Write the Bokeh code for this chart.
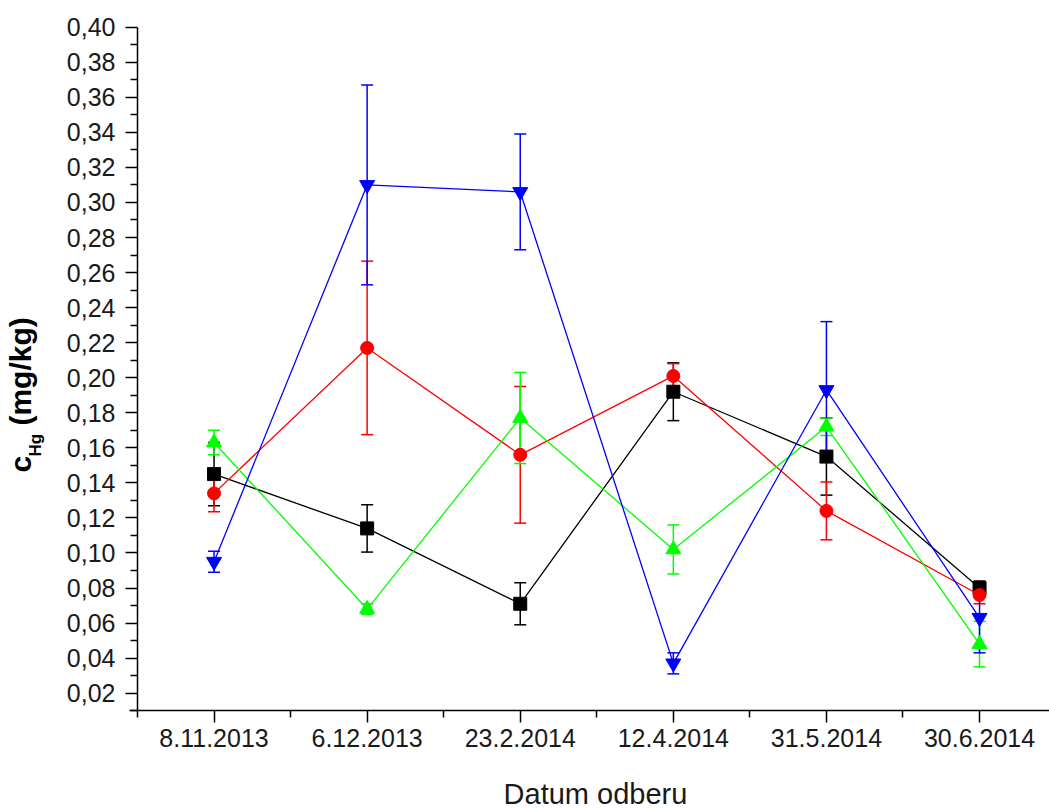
from bokeh.plotting import figure
from bokeh.models import (ColumnDataSource, Whisker, TeeHead, FixedTicker, Range1d,
                          LinearAxis)
from bokeh.core.properties import value
from bokeh.embed import file_html
from bokeh.resources import INLINE
import math

dates = ["8.11.2013", "6.12.2013", "23.2.2014", "12.4.2014", "31.5.2014", "30.6.2014"]
x_pos = [1, 2, 3, 4, 5, 6]
x_minor = [0.5, 1.5, 2.5, 3.5, 4.5, 5.5, 6.5]

black_vals = [0.145, 0.114, 0.071, 0.192, 0.155, 0.080]
black_err = [0.018, 0.0135, 0.012, 0.0165, 0.022, 0.004]
red_vals = [0.134, 0.217, 0.156, 0.201, 0.124, 0.076]
red_err = [0.0105, 0.0495, 0.039, 0.007, 0.0165, 0.005]
green_vals = [0.163, 0.068, 0.177, 0.102, 0.172, 0.048]
green_err = [0.007, 0.003, 0.026, 0.014, 0.005, 0.013]
blue_vals = [0.095, 0.310, 0.306, 0.037, 0.193, 0.063]
blue_err = [0.006, 0.057, 0.033, 0.006, 0.039, 0.020]

y_ticks = [0.02, 0.04, 0.06, 0.08, 0.10, 0.12, 0.14, 0.16, 0.18, 0.20,
           0.22, 0.24, 0.26, 0.28, 0.30, 0.32, 0.34, 0.36, 0.38, 0.40]
y_tick_labels = ["0,02", "0,04", "0,06", "0,08", "0,10", "0,12", "0,14", "0,16", "0,18", "0,20",
                 "0,22", "0,24", "0,26", "0,28", "0,30", "0,32", "0,34", "0,36", "0,38", "0,40"]
y_minor = [0.01, 0.03, 0.05, 0.07, 0.09, 0.11, 0.13, 0.15, 0.17, 0.19,
           0.21, 0.23, 0.25, 0.27, 0.29, 0.31, 0.33, 0.35, 0.37, 0.39]

x_title = "Datum odberu"
y_title_main = "c"
y_title_sub = "Hg"
y_title_unit = "(mg/kg)"

FONT = "Liberation Sans"

# The data frame spans the whole canvas; both axes are pinned inside it
p = figure(width=1049, height=809, output_backend="svg", toolbar_location=None,
           x_range=Range1d(-0.3948, 6.457), y_range=Range1d(-0.04639, 0.41524),
           x_axis_location=None, y_axis_location=None,
           min_border_left=0, min_border_right=0, min_border_top=0, min_border_bottom=0)
p.outline_line_color = None
p.grid.visible = False
p.background_fill_color = "white"
p.border_fill_color = "white"

series = [
    (black_vals, black_err, "#000000", "square", 13),
    (red_vals, red_err, "#ff0000", "circle", 13),
    (green_vals, green_err, "#00ff00", "triangle", 15),
    (blue_vals, blue_err, "#0000ff", "inverted_triangle", 15),
]

for vals, errs, color, marker, size in series:
    src = ColumnDataSource(dict(
        x=x_pos, y=vals,
        upper=[v + e for v, e in zip(vals, errs)],
        lower=[v - e for v, e in zip(vals, errs)],
    ))
    p.line("x", "y", source=src, line_color=color, line_width=1.3)
    w = Whisker(base="x", upper="upper", lower="lower", source=src,
                line_color=color, line_width=1.5,
                upper_head=TeeHead(size=12, line_color=color, line_width=1.5),
                lower_head=TeeHead(size=12, line_color=color, line_width=1.5))
    p.add_layout(w)
    p.scatter("x", "y", source=src, marker=marker, size=size,
              fill_color=color, line_color=color)


def style_axis(ax):
    ax.major_label_text_font = FONT
    ax.major_label_text_font_size = "25px"
    ax.major_label_text_color = "#1a1a1a"
    ax.axis_line_width = 1.5
    ax.major_tick_line_width = 1.5
    ax.minor_tick_line_width = 1.5
    ax.major_tick_out = 12
    ax.major_tick_in = 0
    ax.minor_tick_out = 7
    ax.minor_tick_in = 0


# x axis pinned at y = 0.01
xa = LinearAxis(fixed_location=0.01)
xa.ticker = FixedTicker(ticks=x_pos, minor_ticks=x_minor)
xa.major_label_overrides = dict(zip(x_pos, dates))
xa.bounds = (0.448, 6.457)
style_axis(xa)
xa.major_label_standoff = 6
p.add_layout(xa, "below")

# y axis pinned at x = 0.5
ya = LinearAxis(fixed_location=0.5)
ya.ticker = FixedTicker(ticks=y_ticks, minor_ticks=y_minor)
ya.major_label_overrides = dict(zip(y_ticks, y_tick_labels))
ya.bounds = (0.01, 0.40)
style_axis(ya)
ya.major_label_standoff = 10
p.add_layout(ya, "left")

# x axis title
p.text(x=[3.4915], y=[-0.0378], text=[x_title],
       text_font=value(FONT), text_font_size="29px", text_font_style="normal",
       text_align="center", text_baseline="middle", text_color="#1a1a1a")

# y axis title with subscript, rotated
p.text(x=[-0.264, -0.165, -0.264], y=[0.1459, 0.1550, 0.1727],
       text=[y_title_main, y_title_sub, y_title_unit], angle=math.pi / 2,
       text_font=value(FONT), text_font_size=["30px", "17px", "30px"],
       text_font_style="bold", text_align="left", text_baseline="alphabetic",
       text_color="#000000")

open("out.html", "w").write(file_html(p, INLINE))
